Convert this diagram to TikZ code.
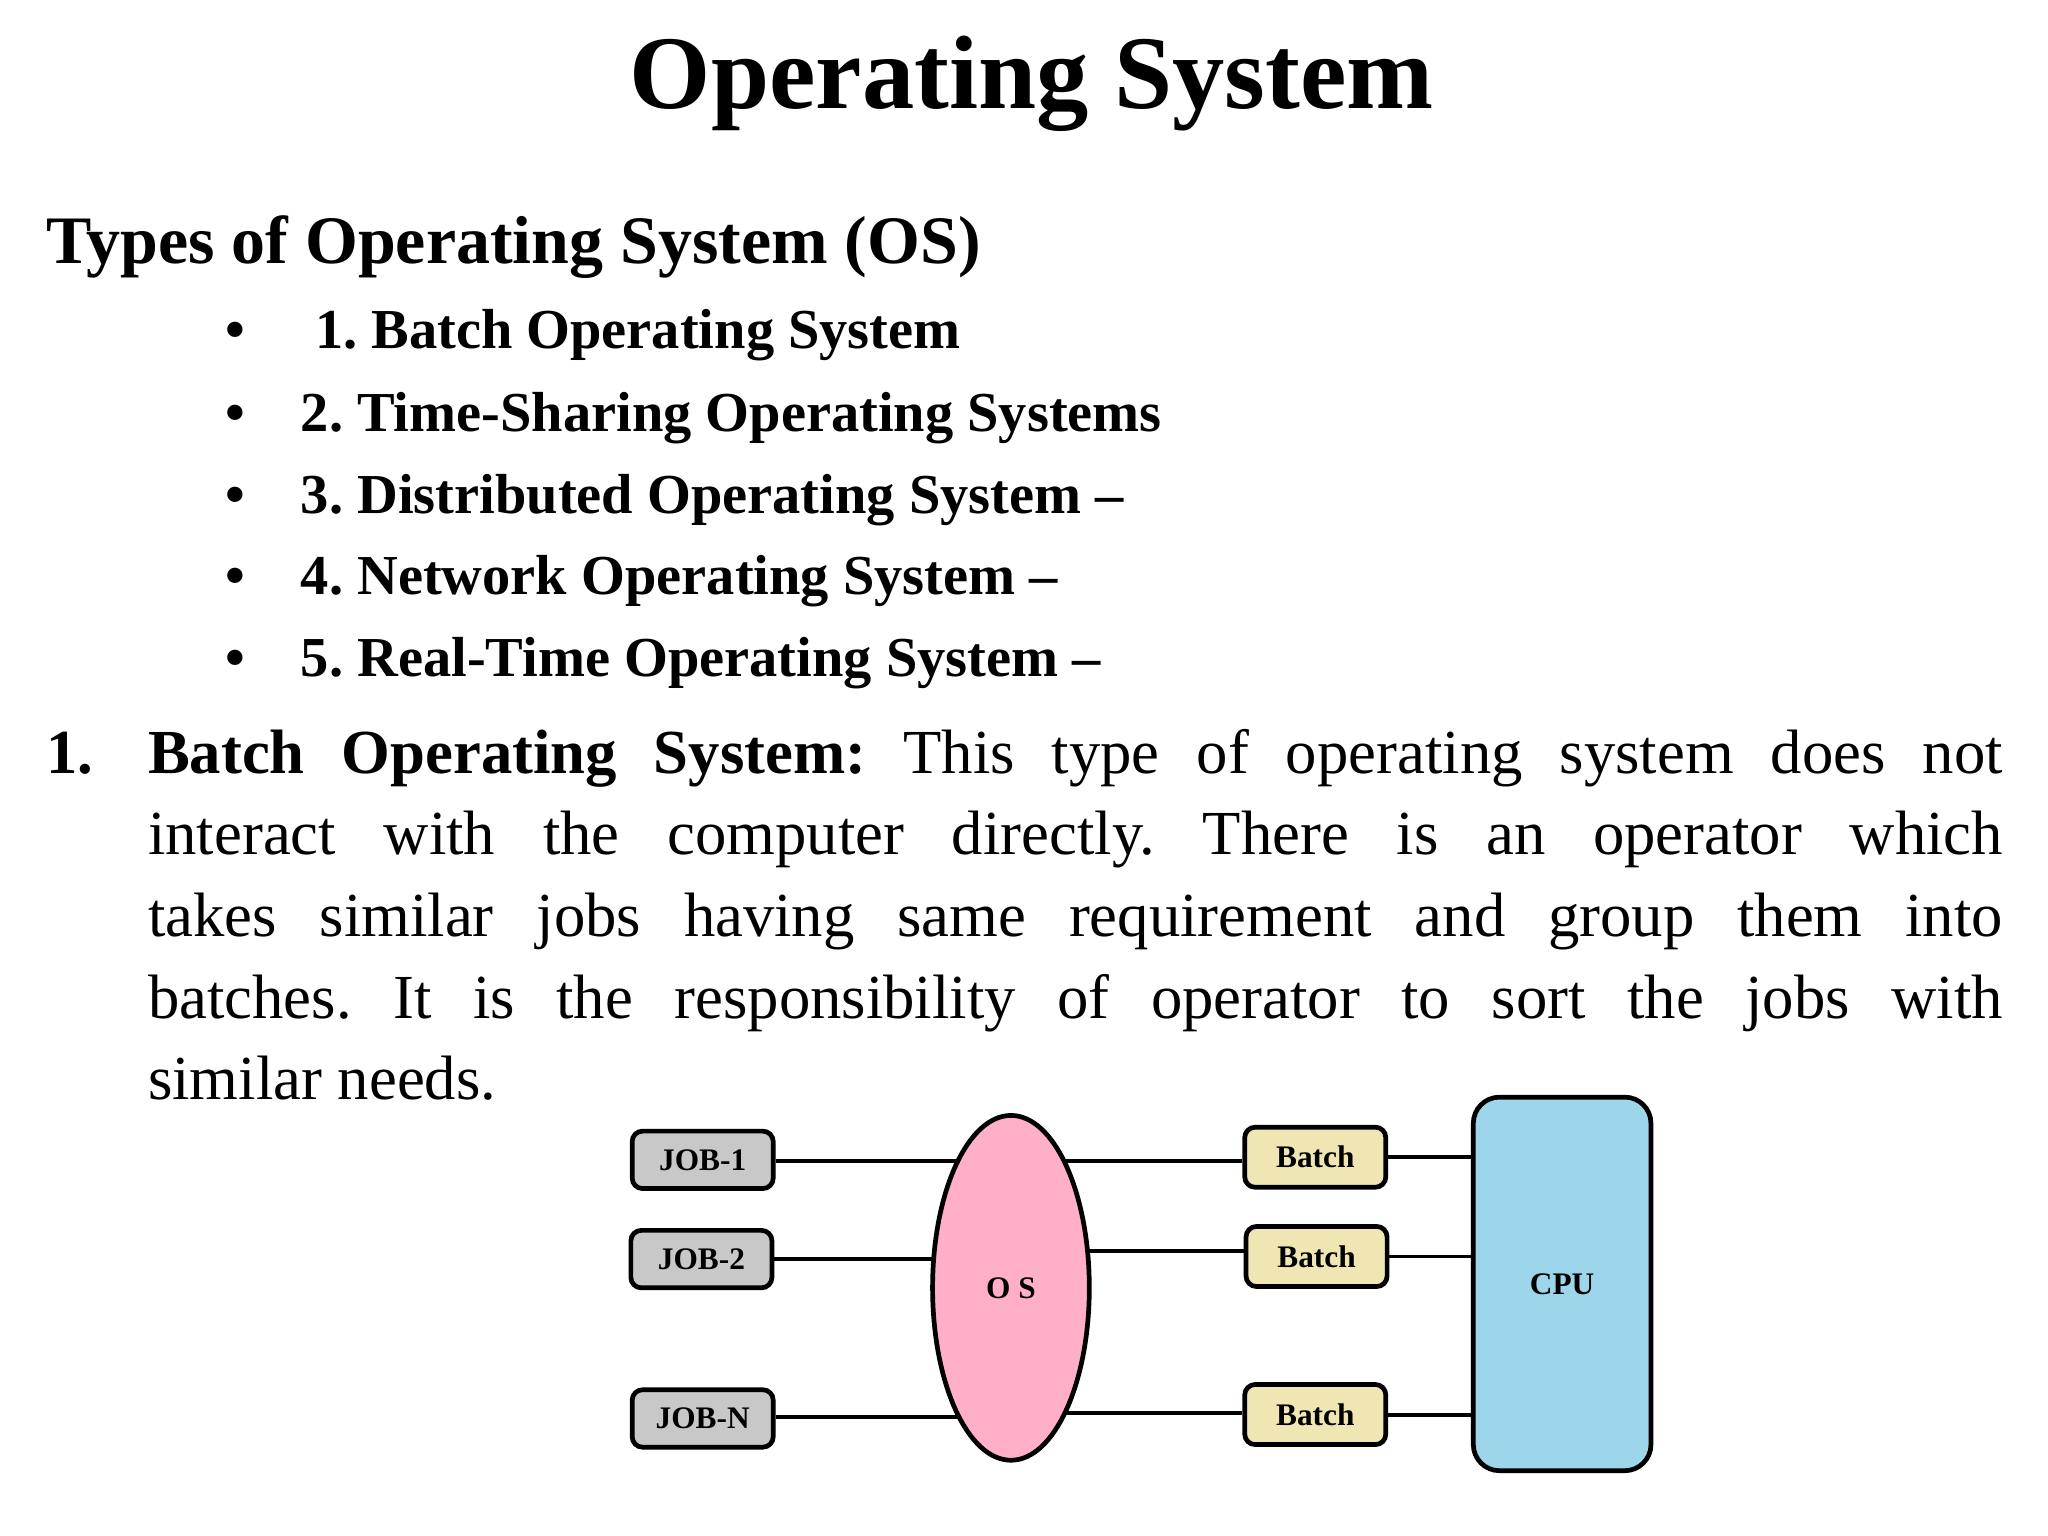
\documentclass[tikz,border=0pt]{standalone}
\usepackage{fontspec}
\setmainfont{Liberation Serif}
\usetikzlibrary{shapes.geometric}
\definecolor{jobc}{HTML}{C8C8C8}
\definecolor{batc}{HTML}{F0E6B4}
\definecolor{osc}{HTML}{FFB0C8}
\definecolor{cpuc}{HTML}{9DD6EA}
\begin{document}
\frenchspacing
\begin{tikzpicture}[x=0.5pt,y=-0.5pt,
  lbl/.style={font=\fontsize{12}{14}\selectfont\bfseries},
  job/.style={draw,line width=1.8pt,rounded corners=4pt,fill=jobc,lbl,minimum width=54pt,minimum height=22pt,inner sep=0pt},
  batch/.style={draw,line width=1.8pt,rounded corners=4pt,fill=batc,lbl,minimum width=54pt,minimum height=23pt,inner sep=0pt},
  wire/.style={line width=1.5pt},
  bul/.style={anchor=base west,font=\fontsize{21.6}{24}\selectfont\bfseries,inner sep=0pt},
  para/.style={anchor=base west,font=\fontsize{24}{30}\selectfont,inner sep=0pt}]
\fill[white] (0,0) rectangle (1568,1176);
\node[font=\fontsize{40}{46}\selectfont\bfseries] (title) at (790,64) {Operating System};
\node[anchor=base west,inner sep=0pt,font=\fontsize{26}{30}\selectfont\bfseries] (types) at (35,202) {Types of Operating System (OS)};
\foreach \y/\t [count=\i] in {267/{\ 1. Batch Operating System},330/{2. Time-Sharing Operating Systems},393/{3. Distributed Operating System –},455/{4. Network Operating System –},518/{5. Real-Time Operating System –}}{
  \node[bul] (b\i) at (172,\y) {•};
  \node[bul] (t\i) at (230,\y) {\t};
}
\node[para,font=\fontsize{24}{30}\selectfont\bfseries] (n1) at (35,592) {1.};
\node[para] (l1) at (113,592) {\makebox[710pt][s]{\textbf{Batch Operating System:} This type of operating system does not}};
\node[para] (l2) at (113,654) {\makebox[710pt][s]{interact with the computer directly. There is an operator which}};
\node[para] (l3) at (113,717) {\makebox[710pt][s]{takes similar jobs having same requirement and group them into}};
\node[para] (l4) at (113,780) {\makebox[710pt][s]{batches. It is the responsibility of operator to sort the jobs with}};
\node[para] (l5) at (113,842) {similar needs.};
% diagram
\node[job] (j1) at (538,888) {JOB-1};
\node[job] (j2) at (537,964) {JOB-2};
\node[job] (jn) at (538,1086) {JOB-N};
\node[draw,line width=1.8pt,ellipse,fill=osc,minimum width=60pt,minimum height=132pt,inner sep=0pt,lbl] (os) at (774,986) {O S};
\node[batch] (a1) at (1007,886) {Batch};
\node[batch] (a2) at (1008,962) {Batch};
\node[batch] (a3) at (1007,1083) {Batch};
\node[draw,line width=1.8pt,rounded corners=10pt,fill=cpuc,minimum width=68pt,minimum height=143pt,lbl] (cpu) at (1196,983) {CPU};
\coordinate (e1) at (733,889);
\coordinate (e2) at (714,964);
\coordinate (e3) at (735,1085);
\coordinate (f1) at (815,889);
\coordinate (f2) at (834,958);
\coordinate (f3) at (815,1082);
\draw[wire] (j1.east |- e1) -- (e1);
\draw[wire] (j2.east |- e2) -- (e2);
\draw[wire] (jn.east |- e3) -- (e3);
\draw[wire] (f1) -- (a1.west |- f1);
\draw[wire] (f2) -- (a2.west |- f2);
\draw[wire] (f3) -- (a3.west |- f3);
\draw[wire] (a1.east) -- (cpu.west |- a1.east);
\draw[wire] (a2.east) -- (cpu.west |- a2.east);
\draw[wire] (a3.east) -- (cpu.west |- a3.east);
\end{tikzpicture}
\end{document}
